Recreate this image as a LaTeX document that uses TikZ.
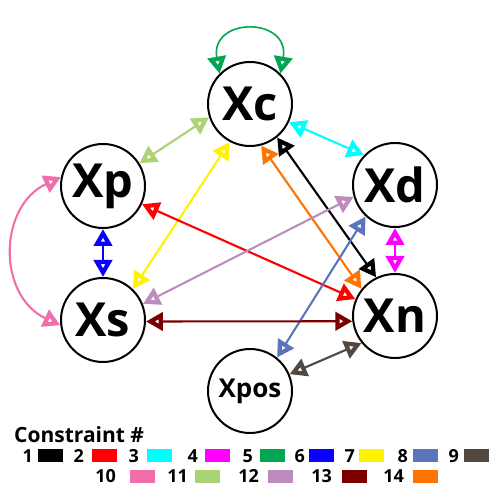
\documentclass[tikz,border=0pt]{standalone}
\usepackage{fontspec}
\setmainfont{Open Sans}
\usetikzlibrary{arrows.meta}
\definecolor{c1}{HTML}{000000}
\definecolor{c2}{HTML}{FF0000}
\definecolor{c3}{HTML}{00FFFF}
\definecolor{c4}{HTML}{FF00FF}
\definecolor{c5}{HTML}{00A651}
\definecolor{c6}{HTML}{0A00FF}
\definecolor{c7}{HTML}{FFF200}
\definecolor{c8}{HTML}{5A75BB}
\definecolor{c9}{HTML}{534741}
\definecolor{c10}{HTML}{F06EAA}
\definecolor{c11}{HTML}{ACD373}
\definecolor{c12}{HTML}{BD8CBF}
\definecolor{c13}{HTML}{7A0000}
\definecolor{c14}{HTML}{FF7300}
\begin{document}
\begin{tikzpicture}[x=1pt,y=1pt,
  var/.style={circle,draw,line width=2pt,minimum size=84pt,inner sep=0pt,font=\fontsize{47}{47}\selectfont\bfseries},
  varsmall/.style={var,font=\fontsize{26}{26}\selectfont\bfseries},
  rel/.style={line width=2.1pt,{Triangle[open,length=17pt,width=18pt,line width=4.5pt]}-{Triangle[open,length=17pt,width=18pt,line width=4.5pt]}},
  num/.style={anchor=base east,inner sep=0pt,font=\fontsize{18}{18}\selectfont\bfseries},
  sw/.style={minimum width=25pt,minimum height=13pt,inner sep=0pt,anchor=south west}
]
\useasboundingbox (0,0) rectangle (500,500);
\node[var] (Xc) at (250,396) {Xc};
\node[var] (Xp) at (103,314) {Xp};
\node[var] (Xs) at (103,180) {Xs};
\node[var] (Xd) at (395,315) {Xd};
\node[var] (Xn) at (395,184) {Xn};
\node[varsmall] (Xpos) at (250,109) {Xpos};

\draw[rel,c11] (Xp.32) -- (Xc.198);
\draw[rel,c7] (Xc.242) -- (Xs.46);
\draw[rel,c3] (Xc.-25) -- (Xd.136);
\draw[rel,c1] (Xc.-51) -- (Xn.116);
\draw[rel,c14] (Xc.-75) -- (Xn.141);
\draw[rel,c2] (Xp.-25) -- (Xn.157);
\draw[rel,c12] (Xs.22) -- (Xd.196);
\draw[rel,c8] (Xd.227) -- (Xpos.51);
\draw[rel,c9] (Xn.219) -- (Xpos.23);
\draw[rel,c13] (Xs.-2) -- (Xn.187);
\draw[rel,c6] (Xp.270) -- (Xs.90);
\draw[rel,c4] (Xd.270) -- (Xn.90);
\draw[rel,c10] (Xp.168) to[out=205,in=155,looseness=1.2] (Xs.187);
\draw[rel,c5,line width=1.6pt] (Xc.135) .. controls +(100:58) and +(80:58) .. (Xc.45);

\node[anchor=base west,inner sep=0pt,font=\fontsize{21}{21}\selectfont\bfseries] (title) at (14,57) {Constraint \#};
\node[num] (n1) at (33,37) {1}; \node[sw,fill=c1] (s1) at (38,38) {};
\node[num] (n2) at (84,37) {2}; \node[sw,fill=c2] (s2) at (92,38) {};
\node[num] (n3) at (139,37) {3}; \node[sw,fill=c3] (s3) at (147,38) {};
\node[num] (n4) at (198,37) {4}; \node[sw,fill=c4] (s4) at (205,38) {};
\node[num] (n5) at (253,37) {5}; \node[sw,fill=c5] (s5) at (260,38) {};
\node[num] (n6) at (305,37) {6}; \node[sw,fill=c6] (s6) at (309,38) {};
\node[num] (n7) at (355,37) {7}; \node[sw,fill=c7] (s7) at (359,38) {};
\node[num] (n8) at (408,37) {8}; \node[sw,fill=c8] (s8) at (413,38) {};
\node[num] (n9) at (459,37) {9}; \node[sw,fill=c9] (s9) at (464,38) {};
\node[num] (n10) at (116,17) {10}; \node[sw,fill=c10] (s10) at (130,17) {};
\node[num] (n11) at (188,17) {11}; \node[sw,fill=c11] (s11) at (195,17) {};
\node[num] (n12) at (259,17) {12}; \node[sw,fill=c12] (s12) at (268,17) {};
\node[num] (n13) at (332,17) {13}; \node[sw,fill=c13] (s13) at (342,17) {};
\node[num] (n14) at (404,17) {14}; \node[sw,fill=c14] (s14) at (413,17) {};
\end{tikzpicture}
\end{document}
